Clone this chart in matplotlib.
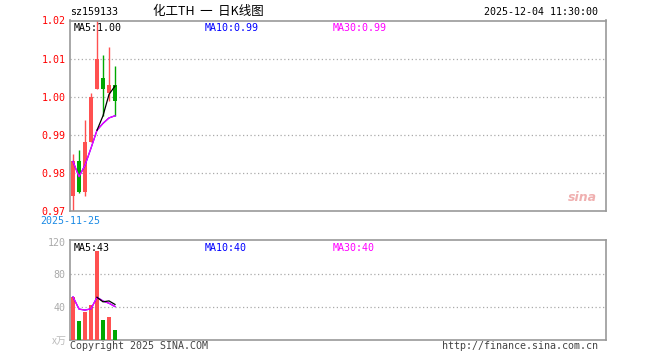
import matplotlib
matplotlib.use('Agg')
import matplotlib.pyplot as plt
import numpy as np

# daily candles (8 trading days since 2025-11-25)
opens = [0.974, 0.983, 0.975, 0.988, 1.002, 1.005, 1.001, 1.003]
closes = [0.983, 0.975, 0.988, 1.000, 1.010, 1.002, 1.003, 0.999]
highs = [0.985, 0.986, 0.994, 1.001, 1.025, 1.011, 1.013, 1.008]
lows = [0.970, 0.9747, 0.974, 0.988, 1.002, 0.995, 0.999, 0.995]
volumes = [52.6, 22.9, 33.9, 43.0, 108.0, 25.0, 28.5, 12.5]

price_ticks = [0.97, 0.98, 0.99, 1.00, 1.01, 1.02]
vol_ticks = [40, 80, 120]

RED = '#ff5050'
GREEN = '#00a800'
MONO = 'DejaVu Sans Mono'


def ma(vals, n):
    out = []
    for i in range(len(vals)):
        if i + 1 < n:
            out.append(np.nan)
        else:
            out.append(np.mean(vals[i + 1 - n:i + 1]))
    return np.array(out)


def cum_ma(vals):
    # sina draws MA10/MA30 from whatever days are available
    return np.array([np.mean(vals[:i + 1]) for i in range(len(vals))])


x = np.arange(len(closes))
up = [c >= o for o, c in zip(opens, closes)]
cols = [RED if u else GREEN for u in up]
slots = 536 / 6.0

fig = plt.figure(figsize=(6.6, 3.6), dpi=100)
ax = fig.add_axes([70 / 660, 1 - 211 / 360, 536 / 660, 190.5 / 360])
axv = fig.add_axes([70 / 660, 1 - 340 / 360, 536 / 660, 100 / 360])

for a in (ax, axv):
    a.set_xlim(-0.5, slots - 0.5)
    for s in a.spines.values():
        s.set_color('#999999')
        s.set_linewidth(1.2)
    a.set_xticks([])
    a.tick_params(axis='y', length=0, pad=3)

# price panel
ax.set_ylim(0.97, 1.02)
for t in price_ticks[1:-1]:
    ax.axhline(t, color='#aaaaaa', lw=0.9, ls=(0, (1, 2)), zorder=0)
ax.vlines(x, lows, highs, colors=cols, lw=1.0, zorder=2)
bottoms = [min(o, c) for o, c in zip(opens, closes)]
heights = [max(abs(c - o), 0.0004) for o, c in zip(opens, closes)]
ax.bar(x, heights, bottom=bottoms, width=0.8, color=cols, zorder=3)

ma5 = ma(closes, 5)
ma10 = cum_ma(closes)
ma30 = cum_ma(closes)
ax.plot(x, ma10, color='#0000ff', lw=0.9, zorder=4)
ax.plot(x, ma30, color='#ff00ff', lw=0.9, zorder=4)
ax.plot(x, ma5, color='black', lw=0.9, zorder=5)

ax.set_yticks(price_ticks)
ax.set_yticklabels(['%.2f' % t for t in price_ticks], color='red',
                   fontsize=7.2, family=MONO)

ax.text(0.006, 0.985, 'MA5:%.2f' % ma5[-1], transform=ax.transAxes, fontsize=7.2,
        family=MONO, color='black', va='top')
ax.text(0.252, 0.985, 'MA10:%.2f' % ma10[-1], transform=ax.transAxes, fontsize=7.2,
        family=MONO, color='#0000ff', va='top')
ax.text(0.490, 0.985, 'MA30:%.2f' % ma30[-1], transform=ax.transAxes, fontsize=7.2,
        family=MONO, color='#ff00ff', va='top')
ax.text(0.955, 0.07, 'sina', transform=ax.transAxes, fontsize=9, style='italic',
        fontweight='bold', color='#f0b0b0', ha='center', va='center')

# volume panel
axv.set_ylim(0, 122)
for t in [40, 80]:
    axv.axhline(t, color='#aaaaaa', lw=0.9, ls=(0, (1, 2)), zorder=0)
axv.bar(x, volumes, width=0.8, color=cols, zorder=3)
vma5 = ma(volumes, 5)
vma10 = cum_ma(volumes)
vma30 = cum_ma(volumes)
axv.plot(x, vma10, color='#0000ff', lw=0.9, zorder=4)
axv.plot(x, vma30, color='#ff00ff', lw=0.9, zorder=4)
axv.plot(x, vma5, color='black', lw=0.9, zorder=5)
axv.set_yticks(vol_ticks)
axv.set_yticklabels([str(t) for t in vol_ticks], color='#aaaaaa',
                    fontsize=7.2, family=MONO)
axv.text(0.006, 0.97, 'MA5:%d' % int(vma5[-1]), transform=axv.transAxes, fontsize=7.2,
         family=MONO, color='black', va='top')
axv.text(0.252, 0.97, 'MA10:%d' % int(vma10[-1]), transform=axv.transAxes, fontsize=7.2,
         family=MONO, color='#0000ff', va='top')
axv.text(0.490, 0.97, 'MA30:%d' % int(vma30[-1]), transform=axv.transAxes, fontsize=7.2,
         family=MONO, color='#ff00ff', va='top')

# header / footer text
fig.text(70 / 660, 1 - 12 / 360, 'sz159133', fontsize=7.2, family=MONO, va='center')
fig.text(208 / 660, 1 - 12 / 360, '化工TH  一  日K线图', fontsize=9,
         family=['Noto Sans CJK SC', 'DejaVu Sans'], ha='center', va='center')
fig.text(598 / 660, 1 - 12 / 360, '2025-12-04 11:30:00', fontsize=7.2, family=MONO,
         ha='right', va='center')
fig.text(70 / 660, 1 - 221 / 360, '2025-11-25', fontsize=7.2, family=MONO,
         color='#1a8ae5', ha='center', va='center')
fig.text(67 / 660, 1 - 341 / 360, 'x万', fontsize=7.2, color='#bbbbbb',
         family=['Noto Sans CJK SC', 'DejaVu Sans'], ha='right', va='center')
fig.text(70 / 660, 1 - 346 / 360, 'Copyright 2025 SINA.COM', fontsize=7.2,
         family=MONO, color='#444444', va='center')
fig.text(598 / 660, 1 - 346 / 360, 'http://finance.sina.com.cn', fontsize=7.2,
         family=MONO, color='#444444', ha='right', va='center')

fig.savefig('out.png', dpi=100, facecolor='white')
